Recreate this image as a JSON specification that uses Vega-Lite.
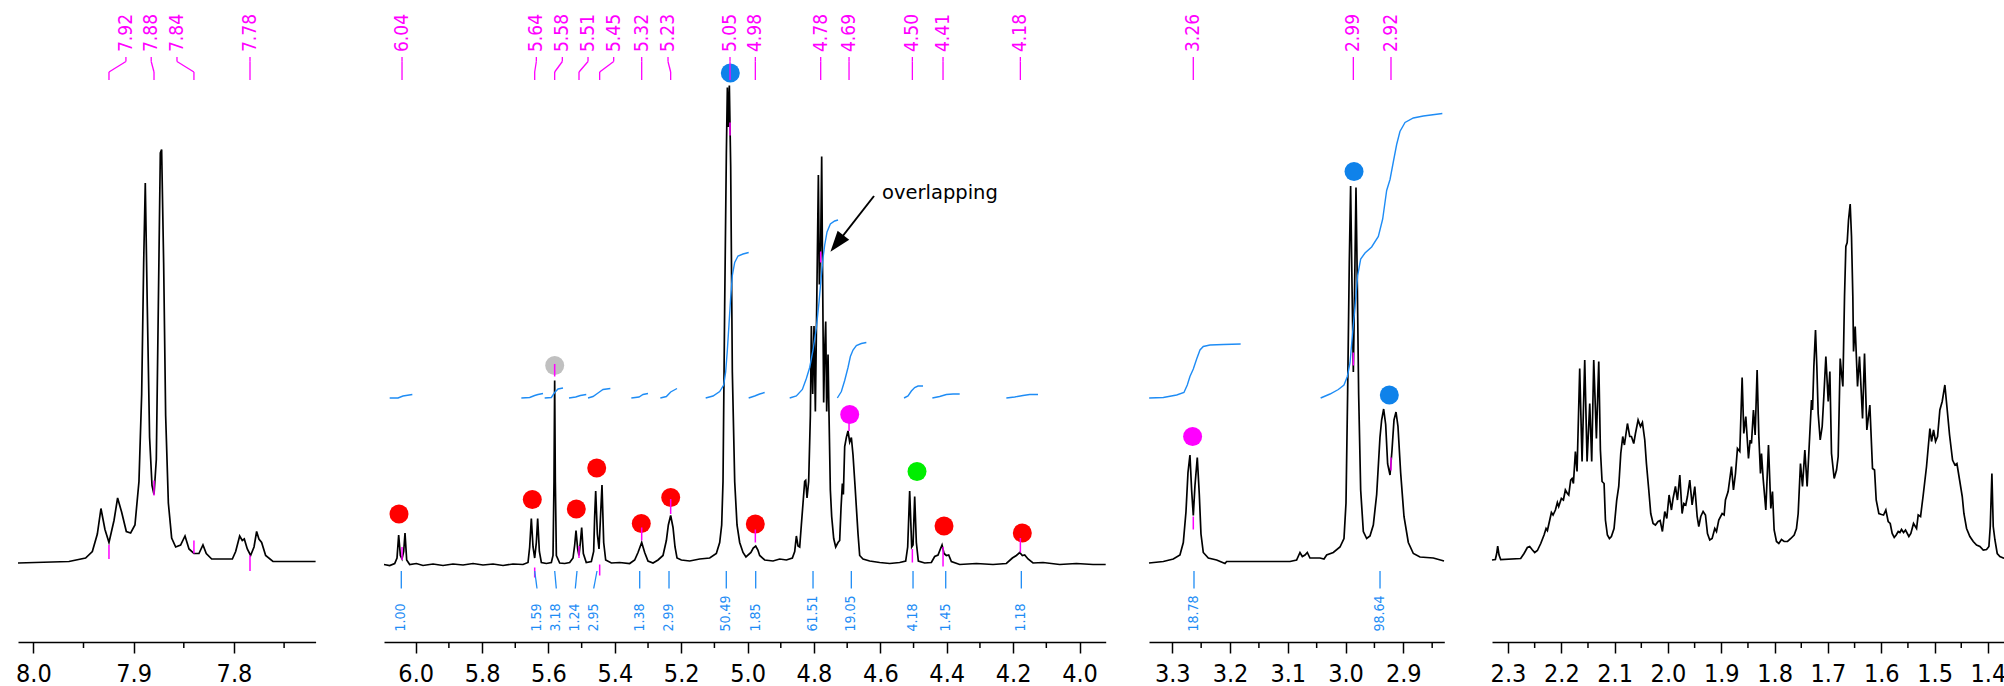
{
  "$schema": "https://vega.github.io/schema/vega-lite/v6.json",
  "background": "#ffffff",
  "padding": {"left": 14, "top": 0, "right": 0, "bottom": 0},
  "config": {
    "view": {"stroke": null},
    "text": {"font": "DejaVu Sans Condensed, DejaVu Sans, sans-serif"}
  },
  "datasets": {
    "s1": [
      {"ppm":8.0153,"int":-0.6},{"ppm":7.9645,"int":-0.3},{"ppm":7.9479,"int":0.4},{"ppm":7.9412,"int":1.7},{"ppm":7.9362,"int":5.2},{"ppm":7.9326,"int":10.3},{"ppm":7.9286,"int":6.1},{"ppm":7.9246,"int":3.5},{"ppm":7.9196,"int":7.9},{"ppm":7.9160,"int":12.4},{"ppm":7.9120,"int":9.6},{"ppm":7.9073,"int":5.7},{"ppm":7.9030,"int":5.4},{"ppm":7.8987,"int":7.0},{"ppm":7.8947,"int":15.7},{"ppm":7.8920,"int":33.2},{"ppm":7.8900,"int":59.5},{"ppm":7.8884,"int":75.4},{"ppm":7.8864,"int":50.7},{"ppm":7.8841,"int":24.5},{"ppm":7.8817,"int":14.9},{"ppm":7.8797,"int":13.1},{"ppm":7.8774,"int":20.1},{"ppm":7.8754,"int":50.7},{"ppm":7.8734,"int":81.4},{"ppm":7.8721,"int":82.1},{"ppm":7.8701,"int":59.5},{"ppm":7.8681,"int":28.9},{"ppm":7.8654,"int":11.4},{"ppm":7.8621,"int":4.4},{"ppm":7.8581,"int":2.6},{"ppm":7.8532,"int":3.0},{"ppm":7.8488,"int":4.8},{"ppm":7.8448,"int":2.2},{"ppm":7.8399,"int":1.3},{"ppm":7.8349,"int":1.3},{"ppm":7.8309,"int":3.0},{"ppm":7.8276,"int":1.3},{"ppm":7.8222,"int":0.2},{"ppm":7.8016,"int":0.2},{"ppm":7.7983,"int":1.7},{"ppm":7.7943,"int":4.8},{"ppm":7.7917,"int":3.9},{"ppm":7.7897,"int":4.2},{"ppm":7.7867,"int":2.2},{"ppm":7.7834,"int":0.9},{"ppm":7.7800,"int":2.6},{"ppm":7.7774,"int":5.7},{"ppm":7.7751,"int":4.2},{"ppm":7.7724,"int":3.5},{"ppm":7.7684,"int":0.9},{"ppm":7.7611,"int":-0.3},{"ppm":7.7186,"int":-0.3}
    ],
    "s2": [
      {"ppm":6.0955,"int":-0.9},{"ppm":6.0784,"int":-1.1},{"ppm":6.0633,"int":-0.7},{"ppm":6.0563,"int":0.4},{"ppm":6.0513,"int":5.0},{"ppm":6.0462,"int":0.9},{"ppm":6.0412,"int":0.2},{"ppm":6.0362,"int":1.7},{"ppm":6.0322,"int":5.4},{"ppm":6.0272,"int":0.0},{"ppm":6.0181,"int":-0.9},{"ppm":5.9980,"int":-0.7},{"ppm":5.9780,"int":-1.1},{"ppm":5.9478,"int":-0.8},{"ppm":5.9177,"int":-1.1},{"ppm":5.8876,"int":-0.8},{"ppm":5.8574,"int":-1.0},{"ppm":5.8273,"int":-0.7},{"ppm":5.7972,"int":-1.0},{"ppm":5.7671,"int":-0.8},{"ppm":5.7369,"int":-1.1},{"ppm":5.7068,"int":-0.8},{"ppm":5.6767,"int":-0.9},{"ppm":5.6616,"int":-0.5},{"ppm":5.6566,"int":2.6},{"ppm":5.6516,"int":8.3},{"ppm":5.6465,"int":2.6},{"ppm":5.6415,"int":0.4},{"ppm":5.6365,"int":3.5},{"ppm":5.6325,"int":8.3},{"ppm":5.6274,"int":1.7},{"ppm":5.6214,"int":-0.5},{"ppm":5.6062,"int":-0.7},{"ppm":5.5913,"int":-0.5},{"ppm":5.5863,"int":0.9},{"ppm":5.5833,"int":15.7},{"ppm":5.5813,"int":35.9},{"ppm":5.5793,"int":15.7},{"ppm":5.5762,"int":0.9},{"ppm":5.5662,"int":-0.6},{"ppm":5.5511,"int":-0.7},{"ppm":5.5361,"int":-0.5},{"ppm":5.5260,"int":0.4},{"ppm":5.5210,"int":3.0},{"ppm":5.5170,"int":5.9},{"ppm":5.5120,"int":2.2},{"ppm":5.5080,"int":0.9},{"ppm":5.5039,"int":3.5},{"ppm":5.4999,"int":6.5},{"ppm":5.4949,"int":1.3},{"ppm":5.4861,"int":-0.5},{"ppm":5.4708,"int":-0.3},{"ppm":5.4638,"int":1.7},{"ppm":5.4608,"int":8.7},{"ppm":5.4577,"int":13.8},{"ppm":5.4527,"int":5.2},{"ppm":5.4477,"int":2.2},{"ppm":5.4437,"int":7.9},{"ppm":5.4387,"int":15.0},{"ppm":5.4336,"int":3.5},{"ppm":5.4276,"int":0.0},{"ppm":5.4105,"int":-0.6},{"ppm":5.3854,"int":-0.5},{"ppm":5.3553,"int":-0.7},{"ppm":5.3402,"int":0.0},{"ppm":5.3302,"int":1.5},{"ppm":5.3191,"int":3.5},{"ppm":5.3101,"int":1.5},{"ppm":5.3001,"int":-0.2},{"ppm":5.2850,"int":-0.6},{"ppm":5.2699,"int":0.0},{"ppm":5.2549,"int":0.9},{"ppm":5.2448,"int":3.9},{"ppm":5.2388,"int":7.0},{"ppm":5.2318,"int":8.9},{"ppm":5.2247,"int":6.5},{"ppm":5.2187,"int":2.6},{"ppm":5.2127,"int":0.4},{"ppm":5.1996,"int":0.0},{"ppm":5.1745,"int":-0.2},{"ppm":5.1444,"int":0.2},{"ppm":5.1142,"int":0.4},{"ppm":5.0942,"int":1.3},{"ppm":5.0841,"int":3.5},{"ppm":5.0781,"int":7.0},{"ppm":5.0741,"int":15.7},{"ppm":5.0691,"int":50.7},{"ppm":5.0640,"int":81.4},{"ppm":5.0610,"int":94.5},{"ppm":5.0580,"int":86.6},{"ppm":5.0550,"int":94.9},{"ppm":5.0510,"int":78.7},{"ppm":5.0460,"int":37.6},{"ppm":5.0389,"int":15.7},{"ppm":5.0319,"int":7.0},{"ppm":5.0239,"int":3.5},{"ppm":5.0138,"int":1.5},{"ppm":5.0050,"int":0.6},{"ppm":4.9900,"int":1.5},{"ppm":4.9830,"int":2.4},{"ppm":4.9756,"int":2.8},{"ppm":4.9690,"int":2.0},{"ppm":4.9636,"int":0.9},{"ppm":4.9485,"int":0.0},{"ppm":4.9234,"int":-0.2},{"ppm":4.9033,"int":0.2},{"ppm":4.8832,"int":0.0},{"ppm":4.8652,"int":0.4},{"ppm":4.8581,"int":1.7},{"ppm":4.8531,"int":4.8},{"ppm":4.8481,"int":2.8},{"ppm":4.8431,"int":2.6},{"ppm":4.8381,"int":7.0},{"ppm":4.8330,"int":11.4},{"ppm":4.8280,"int":15.7},{"ppm":4.8250,"int":15.9},{"ppm":4.8210,"int":12.4},{"ppm":4.8160,"int":15.7},{"ppm":4.8109,"int":28.9},{"ppm":4.8079,"int":46.8},{"ppm":4.8039,"int":33.2},{"ppm":4.7999,"int":46.8},{"ppm":4.7959,"int":29.7},{"ppm":4.7918,"int":50.7},{"ppm":4.7868,"int":77.0},{"ppm":4.7838,"int":55.1},{"ppm":4.7798,"int":63.0},{"ppm":4.7768,"int":80.7},{"ppm":4.7738,"int":55.1},{"ppm":4.7708,"int":31.5},{"ppm":4.7677,"int":42.0},{"ppm":4.7647,"int":47.7},{"ppm":4.7617,"int":29.7},{"ppm":4.7577,"int":41.1},{"ppm":4.7547,"int":28.9},{"ppm":4.7507,"int":14.0},{"ppm":4.7467,"int":8.7},{"ppm":4.7406,"int":4.3},{"ppm":4.7346,"int":2.6},{"ppm":4.7276,"int":3.5},{"ppm":4.7226,"int":3.9},{"ppm":4.7185,"int":10.5},{"ppm":4.7145,"int":15.3},{"ppm":4.7115,"int":13.1},{"ppm":4.7075,"int":22.7},{"ppm":4.7025,"int":24.5},{"ppm":4.6975,"int":25.8},{"ppm":4.6924,"int":23.6},{"ppm":4.6874,"int":24.5},{"ppm":4.6824,"int":21.0},{"ppm":4.6764,"int":14.9},{"ppm":4.6723,"int":10.5},{"ppm":4.6673,"int":5.2},{"ppm":4.6623,"int":0.9},{"ppm":4.6523,"int":0.2},{"ppm":4.6322,"int":-0.2},{"ppm":4.6020,"int":-0.5},{"ppm":4.5719,"int":-0.7},{"ppm":4.5418,"int":-0.5},{"ppm":4.5237,"int":-0.2},{"ppm":4.5177,"int":2.6},{"ppm":4.5117,"int":13.8},{"ppm":4.5056,"int":2.6},{"ppm":4.5016,"int":3.0},{"ppm":4.4966,"int":12.7},{"ppm":4.4916,"int":3.5},{"ppm":4.4856,"int":-0.2},{"ppm":4.4665,"int":-0.6},{"ppm":4.4464,"int":-0.5},{"ppm":4.4363,"int":0.7},{"ppm":4.4263,"int":1.0},{"ppm":4.4192,"int":2.2},{"ppm":4.4142,"int":3.0},{"ppm":4.4082,"int":1.3},{"ppm":4.4012,"int":0.9},{"ppm":4.3942,"int":1.0},{"ppm":4.3861,"int":-0.3},{"ppm":4.3610,"int":-0.9},{"ppm":4.3108,"int":-0.7},{"ppm":4.2606,"int":-0.9},{"ppm":4.2204,"int":-0.7},{"ppm":4.2023,"int":0.4},{"ppm":4.1903,"int":0.9},{"ppm":4.1802,"int":1.5},{"ppm":4.1722,"int":0.9},{"ppm":4.1652,"int":1.0},{"ppm":4.1551,"int":0.2},{"ppm":4.1401,"int":-0.6},{"ppm":4.1099,"int":-0.5},{"ppm":4.0597,"int":-0.9},{"ppm":4.0095,"int":-0.7},{"ppm":3.9593,"int":-0.9},{"ppm":3.9211,"int":-0.9}
    ],
    "s3": [
      {"ppm":3.3403,"int":-0.6},{"ppm":3.3155,"int":-0.3},{"ppm":3.2982,"int":0.2},{"ppm":3.2867,"int":1.0},{"ppm":3.2809,"int":3.5},{"ppm":3.2763,"int":9.6},{"ppm":3.2728,"int":17.5},{"ppm":3.2694,"int":21.0},{"ppm":3.2665,"int":14.0},{"ppm":3.2636,"int":8.9},{"ppm":3.2607,"int":14.9},{"ppm":3.2567,"int":20.5},{"ppm":3.2532,"int":13.1},{"ppm":3.2503,"int":5.2},{"ppm":3.2463,"int":1.5},{"ppm":3.2376,"int":0.4},{"ppm":3.2232,"int":0.0},{"ppm":3.2088,"int":-0.7},{"ppm":3.2059,"int":-0.3},{"ppm":3.1539,"int":-0.3},{"ppm":3.0962,"int":-0.3},{"ppm":3.0847,"int":0.0},{"ppm":3.0789,"int":1.5},{"ppm":3.0748,"int":0.7},{"ppm":3.0702,"int":1.0},{"ppm":3.0662,"int":1.5},{"ppm":3.0616,"int":0.4},{"ppm":3.0443,"int":0.4},{"ppm":3.0373,"int":0.2},{"ppm":3.0327,"int":1.0},{"ppm":3.0212,"int":1.5},{"ppm":3.0096,"int":2.6},{"ppm":3.0027,"int":4.3},{"ppm":2.9992,"int":11.4},{"ppm":2.9964,"int":33.2},{"ppm":2.9935,"int":59.5},{"ppm":2.9912,"int":74.8},{"ppm":2.9888,"int":55.1},{"ppm":2.9865,"int":37.6},{"ppm":2.9842,"int":55.1},{"ppm":2.9819,"int":74.5},{"ppm":2.9796,"int":55.1},{"ppm":2.9773,"int":33.2},{"ppm":2.9738,"int":14.0},{"ppm":2.9692,"int":5.7},{"ppm":2.9634,"int":4.3},{"ppm":2.9577,"int":4.8},{"ppm":2.9519,"int":7.0},{"ppm":2.9461,"int":13.1},{"ppm":2.9404,"int":24.5},{"ppm":2.9375,"int":28.0},{"ppm":2.9340,"int":30.2},{"ppm":2.9305,"int":27.1},{"ppm":2.9271,"int":19.2},{"ppm":2.9230,"int":17.0},{"ppm":2.9196,"int":21.9},{"ppm":2.9161,"int":28.0},{"ppm":2.9126,"int":29.6},{"ppm":2.9092,"int":26.7},{"ppm":2.9046,"int":17.5},{"ppm":2.8988,"int":8.7},{"ppm":2.8913,"int":3.5},{"ppm":2.8826,"int":1.3},{"ppm":2.8711,"int":0.6},{"ppm":2.8480,"int":0.4},{"ppm":2.8295,"int":-0.2}
    ],
    "s4": [
      {"ppm":2.3300,"int":0.0},{"ppm":2.3237,"int":0.1},{"ppm":2.3212,"int":1.3},{"ppm":2.3193,"int":2.8},{"ppm":2.3168,"int":1.0},{"ppm":2.3137,"int":0.1},{"ppm":2.2762,"int":0.3},{"ppm":2.2699,"int":1.3},{"ppm":2.2637,"int":2.5},{"ppm":2.2593,"int":2.7},{"ppm":2.2549,"int":2.1},{"ppm":2.2499,"int":1.5},{"ppm":2.2449,"int":1.9},{"ppm":2.2386,"int":3.3},{"ppm":2.2324,"int":5.0},{"ppm":2.2286,"int":6.3},{"ppm":2.2261,"int":5.9},{"ppm":2.2217,"int":8.0},{"ppm":2.2186,"int":9.5},{"ppm":2.2155,"int":9.0},{"ppm":2.2111,"int":10.0},{"ppm":2.2074,"int":11.5},{"ppm":2.2049,"int":10.7},{"ppm":2.1999,"int":12.3},{"ppm":2.1961,"int":12.0},{"ppm":2.1924,"int":14.0},{"ppm":2.1886,"int":13.3},{"ppm":2.1861,"int":13.0},{"ppm":2.1824,"int":16.0},{"ppm":2.1799,"int":16.3},{"ppm":2.1773,"int":15.3},{"ppm":2.1736,"int":21.7},{"ppm":2.1705,"int":17.7},{"ppm":2.1655,"int":38.3},{"ppm":2.1611,"int":19.7},{"ppm":2.1561,"int":40.0},{"ppm":2.1517,"int":19.7},{"ppm":2.1467,"int":31.3},{"ppm":2.1430,"int":19.7},{"ppm":2.1392,"int":40.0},{"ppm":2.1342,"int":24.3},{"ppm":2.1298,"int":39.7},{"ppm":2.1267,"int":22.0},{"ppm":2.1236,"int":15.7},{"ppm":2.1198,"int":15.3},{"ppm":2.1173,"int":8.0},{"ppm":2.1136,"int":5.0},{"ppm":2.1098,"int":4.3},{"ppm":2.1061,"int":4.7},{"ppm":2.1011,"int":6.3},{"ppm":2.0961,"int":12.0},{"ppm":2.0923,"int":14.7},{"ppm":2.0885,"int":21.3},{"ppm":2.0848,"int":24.7},{"ppm":2.0817,"int":23.0},{"ppm":2.0760,"int":27.3},{"ppm":2.0717,"int":24.7},{"ppm":2.0685,"int":24.7},{"ppm":2.0642,"int":23.3},{"ppm":2.0610,"int":25.3},{"ppm":2.0560,"int":28.0},{"ppm":2.0516,"int":26.7},{"ppm":2.0479,"int":27.5},{"ppm":2.0435,"int":24.0},{"ppm":2.0404,"int":19.3},{"ppm":2.0360,"int":14.0},{"ppm":2.0323,"int":9.3},{"ppm":2.0279,"int":7.3},{"ppm":2.0235,"int":7.0},{"ppm":2.0185,"int":7.7},{"ppm":2.0147,"int":7.9},{"ppm":2.0104,"int":5.7},{"ppm":2.0060,"int":9.7},{"ppm":2.0022,"int":8.3},{"ppm":1.9979,"int":13.0},{"ppm":1.9935,"int":10.0},{"ppm":1.9904,"int":12.3},{"ppm":1.9860,"int":14.7},{"ppm":1.9822,"int":12.0},{"ppm":1.9778,"int":17.0},{"ppm":1.9735,"int":9.3},{"ppm":1.9703,"int":11.3},{"ppm":1.9666,"int":11.0},{"ppm":1.9635,"int":12.7},{"ppm":1.9591,"int":16.0},{"ppm":1.9547,"int":11.0},{"ppm":1.9497,"int":14.7},{"ppm":1.9453,"int":8.7},{"ppm":1.9422,"int":6.7},{"ppm":1.9385,"int":8.7},{"ppm":1.9341,"int":9.7},{"ppm":1.9297,"int":9.0},{"ppm":1.9259,"int":5.3},{"ppm":1.9216,"int":4.0},{"ppm":1.9172,"int":4.3},{"ppm":1.9122,"int":6.3},{"ppm":1.9090,"int":5.7},{"ppm":1.9047,"int":8.0},{"ppm":1.8984,"int":9.3},{"ppm":1.8947,"int":9.0},{"ppm":1.8922,"int":12.0},{"ppm":1.8872,"int":13.7},{"ppm":1.8809,"int":18.7},{"ppm":1.8772,"int":14.0},{"ppm":1.8734,"int":17.3},{"ppm":1.8697,"int":22.3},{"ppm":1.8653,"int":21.7},{"ppm":1.8609,"int":36.5},{"ppm":1.8578,"int":25.3},{"ppm":1.8540,"int":28.7},{"ppm":1.8490,"int":20.3},{"ppm":1.8459,"int":24.0},{"ppm":1.8434,"int":23.3},{"ppm":1.8397,"int":30.0},{"ppm":1.8365,"int":25.0},{"ppm":1.8328,"int":38.0},{"ppm":1.8296,"int":24.7},{"ppm":1.8265,"int":17.3},{"ppm":1.8246,"int":21.3},{"ppm":1.8215,"int":16.3},{"ppm":1.8165,"int":10.0},{"ppm":1.8115,"int":23.0},{"ppm":1.8071,"int":10.3},{"ppm":1.8040,"int":13.7},{"ppm":1.8009,"int":6.0},{"ppm":1.7965,"int":3.7},{"ppm":1.7921,"int":3.3},{"ppm":1.7871,"int":4.1},{"ppm":1.7821,"int":3.7},{"ppm":1.7758,"int":3.7},{"ppm":1.7696,"int":4.3},{"ppm":1.7633,"int":5.0},{"ppm":1.7590,"int":6.3},{"ppm":1.7558,"int":9.3},{"ppm":1.7515,"int":19.3},{"ppm":1.7477,"int":14.7},{"ppm":1.7433,"int":22.0},{"ppm":1.7390,"int":14.7},{"ppm":1.7346,"int":24.0},{"ppm":1.7308,"int":32.0},{"ppm":1.7289,"int":30.0},{"ppm":1.7264,"int":38.7},{"ppm":1.7233,"int":46.0},{"ppm":1.7208,"int":38.7},{"ppm":1.7183,"int":29.3},{"ppm":1.7145,"int":24.0},{"ppm":1.7108,"int":26.7},{"ppm":1.7077,"int":32.7},{"ppm":1.7039,"int":40.7},{"ppm":1.6995,"int":31.7},{"ppm":1.6964,"int":37.7},{"ppm":1.6933,"int":21.3},{"ppm":1.6883,"int":16.3},{"ppm":1.6839,"int":18.0},{"ppm":1.6808,"int":20.7},{"ppm":1.6770,"int":40.3},{"ppm":1.6745,"int":37.3},{"ppm":1.6720,"int":34.7},{"ppm":1.6689,"int":52.7},{"ppm":1.6664,"int":62.7},{"ppm":1.6639,"int":63.5},{"ppm":1.6614,"int":68.0},{"ppm":1.6583,"int":71.2},{"ppm":1.6558,"int":64.7},{"ppm":1.6533,"int":52.7},{"ppm":1.6520,"int":41.7},{"ppm":1.6489,"int":46.7},{"ppm":1.6445,"int":34.7},{"ppm":1.6408,"int":40.7},{"ppm":1.6351,"int":28.3},{"ppm":1.6314,"int":41.3},{"ppm":1.6270,"int":26.0},{"ppm":1.6214,"int":31.0},{"ppm":1.6164,"int":18.3},{"ppm":1.6126,"int":18.0},{"ppm":1.6095,"int":12.0},{"ppm":1.6045,"int":9.3},{"ppm":1.5995,"int":9.1},{"ppm":1.5957,"int":9.0},{"ppm":1.5914,"int":10.0},{"ppm":1.5870,"int":7.7},{"ppm":1.5832,"int":7.3},{"ppm":1.5795,"int":5.3},{"ppm":1.5757,"int":4.5},{"ppm":1.5720,"int":5.0},{"ppm":1.5682,"int":5.7},{"ppm":1.5651,"int":5.5},{"ppm":1.5620,"int":6.1},{"ppm":1.5582,"int":5.5},{"ppm":1.5545,"int":6.0},{"ppm":1.5482,"int":4.7},{"ppm":1.5445,"int":5.3},{"ppm":1.5395,"int":7.3},{"ppm":1.5338,"int":6.3},{"ppm":1.5307,"int":9.0},{"ppm":1.5263,"int":8.7},{"ppm":1.5213,"int":13.0},{"ppm":1.5151,"int":18.7},{"ppm":1.5088,"int":26.3},{"ppm":1.5057,"int":23.7},{"ppm":1.5019,"int":26.0},{"ppm":1.4982,"int":23.7},{"ppm":1.4944,"int":24.7},{"ppm":1.4901,"int":30.0},{"ppm":1.4857,"int":31.7},{"ppm":1.4807,"int":35.0},{"ppm":1.4769,"int":30.7},{"ppm":1.4719,"int":25.0},{"ppm":1.4663,"int":20.0},{"ppm":1.4619,"int":19.0},{"ppm":1.4581,"int":19.3},{"ppm":1.4531,"int":16.0},{"ppm":1.4481,"int":12.7},{"ppm":1.4450,"int":9.3},{"ppm":1.4400,"int":6.3},{"ppm":1.4338,"int":4.7},{"ppm":1.4275,"int":3.7},{"ppm":1.4213,"int":3.0},{"ppm":1.4150,"int":2.7},{"ppm":1.4087,"int":2.0},{"ppm":1.4025,"int":2.1},{"ppm":1.3981,"int":2.7},{"ppm":1.3956,"int":6.7},{"ppm":1.3925,"int":17.3},{"ppm":1.3900,"int":6.7},{"ppm":1.3868,"int":4.0},{"ppm":1.3825,"int":1.3},{"ppm":1.3775,"int":0.7},{"ppm":1.3712,"int":0.4},{"ppm":1.3610,"int":0.2}
    ],
    "minor": [
      {"panel":1,"ppm":7.95},{"panel":1,"ppm":7.85},{"panel":1,"ppm":7.75},
      {"panel":2,"ppm":5.9},{"panel":2,"ppm":5.7},{"panel":2,"ppm":5.5},{"panel":2,"ppm":5.3},{"panel":2,"ppm":5.1},{"panel":2,"ppm":4.9},{"panel":2,"ppm":4.7},{"panel":2,"ppm":4.5},{"panel":2,"ppm":4.3},{"panel":2,"ppm":4.1},
      {"panel":3,"ppm":3.25},{"panel":3,"ppm":3.15},{"panel":3,"ppm":3.05},{"panel":3,"ppm":2.95},{"panel":3,"ppm":2.85},
      {"panel":4,"ppm":2.25},{"panel":4,"ppm":2.15},{"panel":4,"ppm":2.05},{"panel":4,"ppm":1.95},{"panel":4,"ppm":1.85},{"panel":4,"ppm":1.75},{"panel":4,"ppm":1.65},{"panel":4,"ppm":1.55},{"panel":4,"ppm":1.45}
    ],
    "peaks": [
      {"panel":1,"shift":7.9246,"lab":7.9077,"m1":3.0,"m2":0.2},
      {"panel":1,"shift":7.8797,"lab":7.8825,"m1":15.9,"m2":12.9},
      {"panel":1,"shift":7.8399,"lab":7.8568,"m1":3.9,"m2":1.3},
      {"panel":1,"shift":7.7840,"lab":7.7840,"m1":0.9,"m2":-2.2},
      {"panel":2,"shift":6.0412,"lab":6.0412,"m1":2.6,"m2":0.0},
      {"panel":2,"shift":5.6415,"lab":5.6365,"m1":-1.5,"m2":-3.5},
      {"panel":2,"shift":5.5813,"lab":5.5582,"m1":39.2,"m2":36.7},
      {"panel":2,"shift":5.5080,"lab":5.4808,"m1":2.8,"m2":0.4},
      {"panel":2,"shift":5.4457,"lab":5.4035,"m1":-0.9,"m2":-3.1},
      {"panel":2,"shift":5.3191,"lab":5.3191,"m1":6.5,"m2":3.9},
      {"panel":2,"shift":5.2318,"lab":5.2398,"m1":12.2,"m2":9.2},
      {"panel":2,"shift":5.0530,"lab":5.0530,"m1":87.5,"m2":84.9},
      {"panel":2,"shift":4.9767,"lab":4.9767,"m1":6.1,"m2":3.5},
      {"panel":2,"shift":4.7798,"lab":4.7798,"m1":61.7,"m2":59.5},
      {"panel":2,"shift":4.6944,"lab":4.6944,"m1":27.5,"m2":25.8},
      {"panel":2,"shift":4.5036,"lab":4.5036,"m1":2.2,"m2":-0.5},
      {"panel":2,"shift":4.4112,"lab":4.4112,"m1":2.6,"m2":-1.3},
      {"panel":2,"shift":4.1782,"lab":4.1782,"m1":4.4,"m2":1.5},
      {"panel":3,"shift":3.2636,"lab":3.2636,"m1":8.7,"m2":6.1},
      {"panel":3,"shift":2.9865,"lab":2.9865,"m1":41.5,"m2":38.9},
      {"panel":3,"shift":2.9213,"lab":2.9213,"m1":20.5,"m2":17.9}
    ],
    "integrals": [
      {"panel":2,"value":1.00,"ilab":6.0434,"itop":6.0434},
      {"panel":2,"value":1.59,"ilab":5.6345,"itop":5.6414},
      {"panel":2,"value":3.18,"ilab":5.5764,"itop":5.5812},
      {"panel":2,"value":1.24,"ilab":5.5191,"itop":5.5140},
      {"panel":2,"value":2.95,"ilab":5.4637,"itop":5.4537},
      {"panel":2,"value":1.38,"ilab":5.3251,"itop":5.3251},
      {"panel":2,"value":2.99,"ilab":5.2368,"itop":5.2368},
      {"panel":2,"value":50.49,"ilab":5.0642,"itop":5.0642},
      {"panel":2,"value":1.85,"ilab":4.9756,"itop":4.9756},
      {"panel":2,"value":61.51,"ilab":4.8029,"itop":4.8029},
      {"panel":2,"value":19.05,"ilab":4.6875,"itop":4.6875},
      {"panel":2,"value":4.18,"ilab":4.5016,"itop":4.5016},
      {"panel":2,"value":1.45,"ilab":4.4031,"itop":4.4031},
      {"panel":2,"value":1.18,"ilab":4.1753,"itop":4.1753},
      {"panel":3,"value":18.78,"ilab":3.2624,"itop":3.2624},
      {"panel":3,"value":98.64,"ilab":2.9403,"itop":2.9403}
    ],
    "curves": [
      {"panel":2,"region":"r1","ppm":6.0784,"int":32.4},{"panel":2,"region":"r1","ppm":6.0533,"int":32.4},{"panel":2,"region":"r1","ppm":6.0383,"int":32.8},{"panel":2,"region":"r1","ppm":6.0101,"int":33.1},
      {"panel":2,"region":"r2","ppm":5.6817,"int":32.4},{"panel":2,"region":"r2","ppm":5.6566,"int":32.5},{"panel":2,"region":"r2","ppm":5.6415,"int":32.9},{"panel":2,"region":"r2","ppm":5.6315,"int":33.1},{"panel":2,"region":"r2","ppm":5.6164,"int":33.3},
      {"panel":2,"region":"r3","ppm":5.6114,"int":32.4},{"panel":2,"region":"r3","ppm":5.5913,"int":32.5},{"panel":2,"region":"r3","ppm":5.5813,"int":33.5},{"panel":2,"region":"r3","ppm":5.5712,"int":34.2},{"panel":2,"region":"r3","ppm":5.5562,"int":34.4},
      {"panel":2,"region":"r4","ppm":5.5381,"int":32.4},{"panel":2,"region":"r4","ppm":5.5180,"int":32.6},{"panel":2,"region":"r4","ppm":5.5039,"int":32.9},{"panel":2,"region":"r4","ppm":5.4861,"int":33.1},
      {"panel":2,"region":"r5","ppm":5.4808,"int":32.4},{"panel":2,"region":"r5","ppm":5.4658,"int":32.7},{"panel":2,"region":"r5","ppm":5.4507,"int":33.4},{"panel":2,"region":"r5","ppm":5.4356,"int":34.1},{"panel":2,"region":"r5","ppm":5.4135,"int":34.3},
      {"panel":2,"region":"r6","ppm":5.3503,"int":32.4},{"panel":2,"region":"r6","ppm":5.3272,"int":32.6},{"panel":2,"region":"r6","ppm":5.3151,"int":33.1},{"panel":2,"region":"r6","ppm":5.3001,"int":33.3},
      {"panel":2,"region":"r7","ppm":5.2629,"int":32.4},{"panel":2,"region":"r7","ppm":5.2448,"int":32.7},{"panel":2,"region":"r7","ppm":5.2318,"int":33.6},{"panel":2,"region":"r7","ppm":5.2127,"int":34.3},
      {"panel":2,"region":"r8","ppm":5.1263,"int":32.4},{"panel":2,"region":"r8","ppm":5.1042,"int":32.8},{"panel":2,"region":"r8","ppm":5.0841,"int":33.7},{"panel":2,"region":"r8","ppm":5.0721,"int":35.0},{"panel":2,"region":"r8","ppm":5.0661,"int":37.6},{"panel":2,"region":"r8","ppm":5.0610,"int":42.0},{"panel":2,"region":"r8","ppm":5.0560,"int":47.2},{"panel":2,"region":"r8","ppm":5.0510,"int":52.5},{"panel":2,"region":"r8","ppm":5.0460,"int":56.9},{"panel":2,"region":"r8","ppm":5.0389,"int":59.5},{"panel":2,"region":"r8","ppm":5.0289,"int":60.8},{"panel":2,"region":"r8","ppm":5.0138,"int":61.2},{"panel":2,"region":"r8","ppm":4.9968,"int":61.5},
      {"panel":2,"region":"r9","ppm":4.9968,"int":32.4},{"panel":2,"region":"r9","ppm":4.9787,"int":32.8},{"panel":2,"region":"r9","ppm":4.9636,"int":33.2},{"panel":2,"region":"r9","ppm":4.9486,"int":33.5},
      {"panel":2,"region":"r10","ppm":4.8732,"int":32.4},{"panel":2,"region":"r10","ppm":4.8531,"int":32.8},{"panel":2,"region":"r10","ppm":4.8350,"int":34.1},{"panel":2,"region":"r10","ppm":4.8230,"int":36.3},{"panel":2,"region":"r10","ppm":4.8129,"int":38.5},{"panel":2,"region":"r10","ppm":4.8029,"int":42.0},{"panel":2,"region":"r10","ppm":4.7929,"int":46.4},{"panel":2,"region":"r10","ppm":4.7848,"int":51.6},{"panel":2,"region":"r10","ppm":4.7778,"int":56.9},{"panel":2,"region":"r10","ppm":4.7728,"int":60.4},{"panel":2,"region":"r10","ppm":4.7677,"int":63.0},{"panel":2,"region":"r10","ppm":4.7607,"int":65.6},{"panel":2,"region":"r10","ppm":4.7507,"int":67.2},{"panel":2,"region":"r10","ppm":4.7376,"int":67.8},{"panel":2,"region":"r10","ppm":4.7276,"int":68.0},
      {"panel":2,"region":"r11","ppm":4.7296,"int":32.4},{"panel":2,"region":"r11","ppm":4.7175,"int":33.7},{"panel":2,"region":"r11","ppm":4.7075,"int":35.9},{"panel":2,"region":"r11","ppm":4.6975,"int":38.5},{"panel":2,"region":"r11","ppm":4.6904,"int":40.7},{"panel":2,"region":"r11","ppm":4.6824,"int":42.0},{"panel":2,"region":"r11","ppm":4.6723,"int":42.9},{"panel":2,"region":"r11","ppm":4.6573,"int":43.3},{"panel":2,"region":"r11","ppm":4.6422,"int":43.5},
      {"panel":2,"region":"r12","ppm":4.5287,"int":32.4},{"panel":2,"region":"r12","ppm":4.5167,"int":32.8},{"panel":2,"region":"r12","ppm":4.5066,"int":33.8},{"panel":2,"region":"r12","ppm":4.4966,"int":34.5},{"panel":2,"region":"r12","ppm":4.4865,"int":34.8},{"panel":2,"region":"r12","ppm":4.4715,"int":34.8},
      {"panel":2,"region":"r13","ppm":4.4434,"int":32.4},{"panel":2,"region":"r13","ppm":4.4213,"int":32.7},{"panel":2,"region":"r13","ppm":4.4012,"int":33.1},{"panel":2,"region":"r13","ppm":4.3811,"int":33.2},{"panel":2,"region":"r13","ppm":4.3610,"int":33.2},
      {"panel":2,"region":"r14","ppm":4.2204,"int":32.4},{"panel":2,"region":"r14","ppm":4.1953,"int":32.6},{"panel":2,"region":"r14","ppm":4.1702,"int":32.9},{"panel":2,"region":"r14","ppm":4.1501,"int":33.1},{"panel":2,"region":"r14","ppm":4.1250,"int":33.1},
      {"panel":3,"region":"r15","ppm":3.3400,"int":32.4},{"panel":3,"region":"r15","ppm":3.3155,"int":32.5},{"panel":3,"region":"r15","ppm":3.2924,"int":33.0},{"panel":3,"region":"r15","ppm":3.2798,"int":33.5},{"panel":3,"region":"r15","ppm":3.2740,"int":35.0},{"panel":3,"region":"r15","ppm":3.2694,"int":36.7},{"panel":3,"region":"r15","ppm":3.2636,"int":38.2},{"panel":3,"region":"r15","ppm":3.2578,"int":40.2},{"panel":3,"region":"r15","ppm":3.2520,"int":42.0},{"panel":3,"region":"r15","ppm":3.2463,"int":42.7},{"panel":3,"region":"r15","ppm":3.2347,"int":43.0},{"panel":3,"region":"r15","ppm":3.2116,"int":43.1},{"panel":3,"region":"r15","ppm":3.1816,"int":43.2},
      {"panel":3,"region":"r16","ppm":3.0431,"int":32.4},{"panel":3,"region":"r16","ppm":3.0269,"int":33.2},{"panel":3,"region":"r16","ppm":3.0125,"int":34.1},{"panel":3,"region":"r16","ppm":3.0027,"int":35.0},{"panel":3,"region":"r16","ppm":2.9969,"int":36.7},{"panel":3,"region":"r16","ppm":2.9923,"int":39.4},{"panel":3,"region":"r16","ppm":2.9877,"int":45.5},{"panel":3,"region":"r16","ppm":2.9836,"int":50.7},{"panel":3,"region":"r16","ppm":2.9790,"int":56.9},{"panel":3,"region":"r16","ppm":2.9738,"int":60.2},{"panel":3,"region":"r16","ppm":2.9663,"int":61.4},{"panel":3,"region":"r16","ppm":2.9548,"int":62.6},{"panel":3,"region":"r16","ppm":2.9432,"int":64.7},{"panel":3,"region":"r16","ppm":2.9357,"int":68.2},{"panel":3,"region":"r16","ppm":2.9288,"int":73.9},{"panel":3,"region":"r16","ppm":2.9230,"int":76.1},{"panel":3,"region":"r16","ppm":2.9173,"int":79.6},{"panel":3,"region":"r16","ppm":2.9115,"int":83.1},{"panel":3,"region":"r16","ppm":2.9058,"int":85.7},{"panel":3,"region":"r16","ppm":2.8970,"int":87.5},{"panel":3,"region":"r16","ppm":2.8826,"int":88.4},{"panel":3,"region":"r16","ppm":2.8653,"int":88.8},{"panel":3,"region":"r16","ppm":2.8324,"int":89.3}
    ],
    "dots": [
      {"panel":2,"ppm":6.0503,"int":9.2,"group":"A"},
      {"panel":2,"ppm":5.6487,"int":12.1,"group":"A"},
      {"panel":2,"ppm":5.5812,"int":38.9,"group":"B"},
      {"panel":2,"ppm":5.5161,"int":10.2,"group":"A"},
      {"panel":2,"ppm":5.4546,"int":18.4,"group":"A"},
      {"panel":2,"ppm":5.3203,"int":7.3,"group":"A"},
      {"panel":2,"ppm":5.2317,"int":12.5,"group":"A"},
      {"panel":2,"ppm":5.0521,"int":97.4,"group":"C"},
      {"panel":2,"ppm":4.9768,"int":7.2,"group":"A"},
      {"panel":2,"ppm":4.6924,"int":29.1,"group":"D"},
      {"panel":2,"ppm":4.4896,"int":17.7,"group":"E"},
      {"panel":2,"ppm":4.4082,"int":6.8,"group":"A"},
      {"panel":2,"ppm":4.1723,"int":5.4,"group":"A"},
      {"panel":3,"ppm":3.2648,"int":24.7,"group":"D"},
      {"panel":3,"ppm":2.9853,"int":77.7,"group":"C"},
      {"panel":3,"ppm":2.9242,"int":33.0,"group":"C"}
    ],
    "arrow": [{"fromPpm":4.6192,"fromInt":72.8,"toPpm":4.7309,"toInt":63.3}],
    "notes": [{"ppm":4.5950,"int":73.4,"label":"overlapping"}]
  },
  "bounds": "flush",
  "spacing": 0,
  "hconcat": [
    {
      "width": 297.6,
      "height": 642,
      "layer": [
        {"data": {"name": "s1"}, "mark": {"type": "line", "color": "#000000", "strokeWidth": 1.7},
         "encoding": {"x": {"field": "ppm", "type": "quantitative", "scale": {"domain": [7.7186, 8.0153], "reverse": true, "nice": false, "zero": false},
                            "axis": {"orient": "bottom", "values": [8.0, 7.9, 7.8], "format": ".1f", "title": null, "grid": false, "domain": true, "domainColor": "#000000", "domainWidth": 1.5, "ticks": true, "tickColor": "#000000", "tickWidth": 1.5, "tickSize": 11, "labels": true, "labelFont": "DejaVu Sans Condensed", "labelFontSize": 25, "labelColor": "#000000", "labelPadding": 8.5, "labelFlush": false, "labelOverlap": false}},
                      "y": {"field": "int", "type": "quantitative", "scale": {"domain": [-16.4, 112], "nice": false, "zero": false}, "axis": null}}},
        {"data": {"name": "minor"}, "transform": [{"filter": "datum.panel == 1"}], "mark": {"type": "rule", "color": "#000000", "strokeWidth": 1.5},
         "encoding": {"x": {"field": "ppm", "type": "quantitative", "scale": {"domain": [7.7186, 8.0153], "reverse": true, "nice": false, "zero": false}, "axis": {"title": null}},
                      "y": {"datum": -16.4, "type": "quantitative", "scale": {"domain": [-16.4, 112], "nice": false, "zero": false}, "axis": null}, "y2": {"datum": -17.6}}},
        {"data": {"name": "peaks"}, "transform": [{"filter": "datum.panel == 1"}], "mark": {"type": "rule", "color": "#ff00ff", "strokeWidth": 1.5},
         "encoding": {"x": {"field": "shift", "type": "quantitative", "scale": {"domain": [7.7186, 8.0153], "reverse": true, "nice": false, "zero": false}, "axis": {"title": null}},
                      "y": {"field": "m1", "type": "quantitative", "scale": {"domain": [-16.4, 112], "nice": false, "zero": false}, "axis": null}, "y2": {"field": "m2"}}},
        {"data": {"name": "peaks"}, "transform": [{"filter": "datum.panel == 1"}], "mark": {"type": "rule", "color": "#ff00ff", "strokeWidth": 1.3},
         "encoding": {"x": {"field": "lab", "type": "quantitative", "scale": {"domain": [7.7186, 8.0153], "reverse": true, "nice": false, "zero": false}, "axis": {"title": null}},
                      "y": {"datum": 100.6, "type": "quantitative", "scale": {"domain": [-16.4, 112], "nice": false, "zero": false}, "axis": null}, "y2": {"datum": 99.7}}},
        {"data": {"name": "peaks"}, "transform": [{"filter": "datum.panel == 1"}], "mark": {"type": "rule", "color": "#ff00ff", "strokeWidth": 1.3},
         "encoding": {"x": {"field": "lab", "type": "quantitative", "scale": {"domain": [7.7186, 8.0153], "reverse": true, "nice": false, "zero": false}, "axis": {"title": null}}, "x2": {"field": "shift"},
                      "y": {"datum": 99.7, "type": "quantitative", "scale": {"domain": [-16.4, 112], "nice": false, "zero": false}, "axis": null}, "y2": {"datum": 97.6}}},
        {"data": {"name": "peaks"}, "transform": [{"filter": "datum.panel == 1"}], "mark": {"type": "rule", "color": "#ff00ff", "strokeWidth": 1.3},
         "encoding": {"x": {"field": "shift", "type": "quantitative", "scale": {"domain": [7.7186, 8.0153], "reverse": true, "nice": false, "zero": false}, "axis": {"title": null}},
                      "y": {"datum": 97.6, "type": "quantitative", "scale": {"domain": [-16.4, 112], "nice": false, "zero": false}, "axis": null}, "y2": {"datum": 96.0}}},
        {"data": {"name": "peaks"}, "transform": [{"filter": "datum.panel == 1"}], "mark": {"type": "text", "color": "#ff00ff", "fontSize": 19, "angle": 270, "align": "left", "baseline": "middle"},
         "encoding": {"x": {"field": "lab", "type": "quantitative", "scale": {"domain": [7.7186, 8.0153], "reverse": true, "nice": false, "zero": false}, "axis": {"title": null}},
                      "y": {"datum": 101.6, "type": "quantitative", "scale": {"domain": [-16.4, 112], "nice": false, "zero": false}, "axis": null},
                      "text": {"field": "shift", "type": "quantitative", "format": ".2f"}}}
      ]
    },
    {"width": 67.7, "height": 642, "data": {"values": []}, "mark": "point"},
    {
      "width": 721.7,
      "height": 642,
      "layer": [
        {"data": {"name": "s2"}, "mark": {"type": "line", "color": "#000000", "strokeWidth": 1.7},
         "encoding": {"x": {"field": "ppm", "type": "quantitative", "scale": {"domain": [3.9211, 6.0955], "reverse": true, "nice": false, "zero": false},
                            "axis": {"orient": "bottom", "values": [6.0, 5.8, 5.6, 5.4, 5.2, 5.0, 4.8, 4.6, 4.4, 4.2, 4.0], "format": ".1f", "title": null, "grid": false, "domain": true, "domainColor": "#000000", "domainWidth": 1.5, "ticks": true, "tickColor": "#000000", "tickWidth": 1.5, "tickSize": 11, "labels": true, "labelFont": "DejaVu Sans Condensed", "labelFontSize": 25, "labelColor": "#000000", "labelPadding": 8.5, "labelFlush": false, "labelOverlap": false}},
                      "y": {"field": "int", "type": "quantitative", "scale": {"domain": [-16.4, 112], "nice": false, "zero": false}, "axis": null}}},
        {"data": {"name": "minor"}, "transform": [{"filter": "datum.panel == 2"}], "mark": {"type": "rule", "color": "#000000", "strokeWidth": 1.5},
         "encoding": {"x": {"field": "ppm", "type": "quantitative", "scale": {"domain": [3.9211, 6.0955], "reverse": true, "nice": false, "zero": false}, "axis": {"title": null}},
                      "y": {"datum": -16.4, "type": "quantitative", "scale": {"domain": [-16.4, 112], "nice": false, "zero": false}, "axis": null}, "y2": {"datum": -17.6}}},
        {"data": {"name": "curves"}, "transform": [{"filter": "datum.panel == 2"}], "mark": {"type": "line", "color": "#1e8cf5", "strokeWidth": 1.4},
         "encoding": {"x": {"field": "ppm", "type": "quantitative", "scale": {"domain": [3.9211, 6.0955], "reverse": true, "nice": false, "zero": false}, "axis": {"title": null}},
                      "y": {"field": "int", "type": "quantitative", "scale": {"domain": [-16.4, 112], "nice": false, "zero": false}, "axis": null},
                      "detail": {"field": "region", "type": "nominal"}}},
        {"data": {"name": "dots"}, "transform": [{"filter": "datum.panel == 2"}], "mark": {"type": "point", "filled": true, "opacity": 1, "size": 360, "shape": "circle"},
         "encoding": {"x": {"field": "ppm", "type": "quantitative", "scale": {"domain": [3.9211, 6.0955], "reverse": true, "nice": false, "zero": false}, "axis": {"title": null}},
                      "y": {"field": "int", "type": "quantitative", "scale": {"domain": [-16.4, 112], "nice": false, "zero": false}, "axis": null},
                      "color": {"field": "group", "type": "nominal", "scale": {"domain": ["A", "B", "C", "D", "E"], "range": ["#ff0000", "#c0c0c0", "#0f82ea", "#ff00ff", "#00ee00"]}, "legend": null}}},
        {"data": {"name": "peaks"}, "transform": [{"filter": "datum.panel == 2"}], "mark": {"type": "rule", "color": "#ff00ff", "strokeWidth": 1.5},
         "encoding": {"x": {"field": "shift", "type": "quantitative", "scale": {"domain": [3.9211, 6.0955], "reverse": true, "nice": false, "zero": false}, "axis": {"title": null}},
                      "y": {"field": "m1", "type": "quantitative", "scale": {"domain": [-16.4, 112], "nice": false, "zero": false}, "axis": null}, "y2": {"field": "m2"}}},
        {"data": {"name": "peaks"}, "transform": [{"filter": "datum.panel == 2"}], "mark": {"type": "rule", "color": "#ff00ff", "strokeWidth": 1.3},
         "encoding": {"x": {"field": "lab", "type": "quantitative", "scale": {"domain": [3.9211, 6.0955], "reverse": true, "nice": false, "zero": false}, "axis": {"title": null}},
                      "y": {"datum": 100.6, "type": "quantitative", "scale": {"domain": [-16.4, 112], "nice": false, "zero": false}, "axis": null}, "y2": {"datum": 99.7}}},
        {"data": {"name": "peaks"}, "transform": [{"filter": "datum.panel == 2"}], "mark": {"type": "rule", "color": "#ff00ff", "strokeWidth": 1.3},
         "encoding": {"x": {"field": "lab", "type": "quantitative", "scale": {"domain": [3.9211, 6.0955], "reverse": true, "nice": false, "zero": false}, "axis": {"title": null}}, "x2": {"field": "shift"},
                      "y": {"datum": 99.7, "type": "quantitative", "scale": {"domain": [-16.4, 112], "nice": false, "zero": false}, "axis": null}, "y2": {"datum": 97.6}}},
        {"data": {"name": "peaks"}, "transform": [{"filter": "datum.panel == 2"}], "mark": {"type": "rule", "color": "#ff00ff", "strokeWidth": 1.3},
         "encoding": {"x": {"field": "shift", "type": "quantitative", "scale": {"domain": [3.9211, 6.0955], "reverse": true, "nice": false, "zero": false}, "axis": {"title": null}},
                      "y": {"datum": 97.6, "type": "quantitative", "scale": {"domain": [-16.4, 112], "nice": false, "zero": false}, "axis": null}, "y2": {"datum": 96.0}}},
        {"data": {"name": "peaks"}, "transform": [{"filter": "datum.panel == 2"}], "mark": {"type": "text", "color": "#ff00ff", "fontSize": 19, "angle": 270, "align": "left", "baseline": "middle"},
         "encoding": {"x": {"field": "lab", "type": "quantitative", "scale": {"domain": [3.9211, 6.0955], "reverse": true, "nice": false, "zero": false}, "axis": {"title": null}},
                      "y": {"datum": 101.6, "type": "quantitative", "scale": {"domain": [-16.4, 112], "nice": false, "zero": false}, "axis": null},
                      "text": {"field": "shift", "type": "quantitative", "format": ".2f"}}},
        {"data": {"name": "integrals"}, "transform": [{"filter": "datum.panel == 2"}], "mark": {"type": "rule", "color": "#1e8cf5", "strokeWidth": 1.3},
         "encoding": {"x": {"field": "itop", "type": "quantitative", "scale": {"domain": [3.9211, 6.0955], "reverse": true, "nice": false, "zero": false}, "axis": {"title": null}}, "x2": {"field": "ilab"},
                      "y": {"datum": -2.2, "type": "quantitative", "scale": {"domain": [-16.4, 112], "nice": false, "zero": false}, "axis": null}, "y2": {"datum": -5.7}}},
        {"data": {"name": "integrals"}, "transform": [{"filter": "datum.panel == 2"}], "mark": {"type": "text", "color": "#1e8cf5", "fontSize": 14, "angle": 270, "align": "left", "baseline": "middle"},
         "encoding": {"x": {"field": "ilab", "type": "quantitative", "scale": {"domain": [3.9211, 6.0955], "reverse": true, "nice": false, "zero": false}, "axis": {"title": null}},
                      "y": {"datum": -14.3, "type": "quantitative", "scale": {"domain": [-16.4, 112], "nice": false, "zero": false}, "axis": null},
                      "text": {"field": "value", "type": "quantitative", "format": ".2f"}}},
        {"data": {"name": "arrow"}, "mark": {"type": "rule", "color": "#000000", "strokeWidth": 2},
         "encoding": {"x": {"field": "fromPpm", "type": "quantitative", "scale": {"domain": [3.9211, 6.0955], "reverse": true, "nice": false, "zero": false}, "axis": {"title": null}}, "x2": {"field": "toPpm"},
                      "y": {"field": "fromInt", "type": "quantitative", "scale": {"domain": [-16.4, 112], "nice": false, "zero": false}, "axis": null}, "y2": {"field": "toInt"}}},
        {"data": {"name": "arrow"}, "mark": {"type": "point", "filled": true, "opacity": 1, "color": "#000000", "shape": "M0,-1L0.7,1L-0.7,1Z", "size": 441, "angle": 218.2},
         "encoding": {"x": {"field": "toPpm", "type": "quantitative", "scale": {"domain": [3.9211, 6.0955], "reverse": true, "nice": false, "zero": false}, "axis": {"title": null}},
                      "y": {"field": "toInt", "type": "quantitative", "scale": {"domain": [-16.4, 112], "nice": false, "zero": false}, "axis": null}}},
        {"data": {"name": "notes"}, "mark": {"type": "text", "color": "#000000", "font": "DejaVu Sans", "fontSize": 19.5, "align": "left", "baseline": "middle"},
         "encoding": {"x": {"field": "ppm", "type": "quantitative", "scale": {"domain": [3.9211, 6.0955], "reverse": true, "nice": false, "zero": false}, "axis": {"title": null}},
                      "y": {"field": "int", "type": "quantitative", "scale": {"domain": [-16.4, 112], "nice": false, "zero": false}, "axis": null},
                      "text": {"field": "label", "type": "nominal"}}}
      ]
    },
    {"width": 43, "height": 642, "data": {"values": []}, "mark": "point"},
    {
      "width": 295.3,
      "height": 642,
      "layer": [
        {"data": {"name": "s3"}, "mark": {"type": "line", "color": "#000000", "strokeWidth": 1.7},
         "encoding": {"x": {"field": "ppm", "type": "quantitative", "scale": {"domain": [2.829, 3.3403], "reverse": true, "nice": false, "zero": false},
                            "axis": {"orient": "bottom", "values": [3.3, 3.2, 3.1, 3.0, 2.9], "format": ".1f", "title": null, "grid": false, "domain": true, "domainColor": "#000000", "domainWidth": 1.5, "ticks": true, "tickColor": "#000000", "tickWidth": 1.5, "tickSize": 11, "labels": true, "labelFont": "DejaVu Sans Condensed", "labelFontSize": 25, "labelColor": "#000000", "labelPadding": 8.5, "labelFlush": false, "labelOverlap": false}},
                      "y": {"field": "int", "type": "quantitative", "scale": {"domain": [-16.4, 112], "nice": false, "zero": false}, "axis": null}}},
        {"data": {"name": "minor"}, "transform": [{"filter": "datum.panel == 3"}], "mark": {"type": "rule", "color": "#000000", "strokeWidth": 1.5},
         "encoding": {"x": {"field": "ppm", "type": "quantitative", "scale": {"domain": [2.829, 3.3403], "reverse": true, "nice": false, "zero": false}, "axis": {"title": null}},
                      "y": {"datum": -16.4, "type": "quantitative", "scale": {"domain": [-16.4, 112], "nice": false, "zero": false}, "axis": null}, "y2": {"datum": -17.6}}},
        {"data": {"name": "curves"}, "transform": [{"filter": "datum.panel == 3"}], "mark": {"type": "line", "color": "#1e8cf5", "strokeWidth": 1.4},
         "encoding": {"x": {"field": "ppm", "type": "quantitative", "scale": {"domain": [2.829, 3.3403], "reverse": true, "nice": false, "zero": false}, "axis": {"title": null}},
                      "y": {"field": "int", "type": "quantitative", "scale": {"domain": [-16.4, 112], "nice": false, "zero": false}, "axis": null},
                      "detail": {"field": "region", "type": "nominal"}}},
        {"data": {"name": "dots"}, "transform": [{"filter": "datum.panel == 3"}], "mark": {"type": "point", "filled": true, "opacity": 1, "size": 360, "shape": "circle"},
         "encoding": {"x": {"field": "ppm", "type": "quantitative", "scale": {"domain": [2.829, 3.3403], "reverse": true, "nice": false, "zero": false}, "axis": {"title": null}},
                      "y": {"field": "int", "type": "quantitative", "scale": {"domain": [-16.4, 112], "nice": false, "zero": false}, "axis": null},
                      "color": {"field": "group", "type": "nominal", "scale": {"domain": ["A", "B", "C", "D", "E"], "range": ["#ff0000", "#c0c0c0", "#0f82ea", "#ff00ff", "#00ee00"]}, "legend": null}}},
        {"data": {"name": "peaks"}, "transform": [{"filter": "datum.panel == 3"}], "mark": {"type": "rule", "color": "#ff00ff", "strokeWidth": 1.5},
         "encoding": {"x": {"field": "shift", "type": "quantitative", "scale": {"domain": [2.829, 3.3403], "reverse": true, "nice": false, "zero": false}, "axis": {"title": null}},
                      "y": {"field": "m1", "type": "quantitative", "scale": {"domain": [-16.4, 112], "nice": false, "zero": false}, "axis": null}, "y2": {"field": "m2"}}},
        {"data": {"name": "peaks"}, "transform": [{"filter": "datum.panel == 3"}], "mark": {"type": "rule", "color": "#ff00ff", "strokeWidth": 1.3},
         "encoding": {"x": {"field": "lab", "type": "quantitative", "scale": {"domain": [2.829, 3.3403], "reverse": true, "nice": false, "zero": false}, "axis": {"title": null}},
                      "y": {"datum": 100.6, "type": "quantitative", "scale": {"domain": [-16.4, 112], "nice": false, "zero": false}, "axis": null}, "y2": {"datum": 96.0}}},
        {"data": {"name": "peaks"}, "transform": [{"filter": "datum.panel == 3"}], "mark": {"type": "text", "color": "#ff00ff", "fontSize": 19, "angle": 270, "align": "left", "baseline": "middle"},
         "encoding": {"x": {"field": "lab", "type": "quantitative", "scale": {"domain": [2.829, 3.3403], "reverse": true, "nice": false, "zero": false}, "axis": {"title": null}},
                      "y": {"datum": 101.6, "type": "quantitative", "scale": {"domain": [-16.4, 112], "nice": false, "zero": false}, "axis": null},
                      "text": {"field": "shift", "type": "quantitative", "format": ".2f"}}},
        {"data": {"name": "integrals"}, "transform": [{"filter": "datum.panel == 3"}], "mark": {"type": "rule", "color": "#1e8cf5", "strokeWidth": 1.3},
         "encoding": {"x": {"field": "itop", "type": "quantitative", "scale": {"domain": [2.829, 3.3403], "reverse": true, "nice": false, "zero": false}, "axis": {"title": null}}, "x2": {"field": "ilab"},
                      "y": {"datum": -2.2, "type": "quantitative", "scale": {"domain": [-16.4, 112], "nice": false, "zero": false}, "axis": null}, "y2": {"datum": -5.7}}},
        {"data": {"name": "integrals"}, "transform": [{"filter": "datum.panel == 3"}], "mark": {"type": "text", "color": "#1e8cf5", "fontSize": 14, "angle": 270, "align": "left", "baseline": "middle"},
         "encoding": {"x": {"field": "ilab", "type": "quantitative", "scale": {"domain": [2.829, 3.3403], "reverse": true, "nice": false, "zero": false}, "axis": {"title": null}},
                      "y": {"datum": -14.3, "type": "quantitative", "scale": {"domain": [-16.4, 112], "nice": false, "zero": false}, "axis": null},
                      "text": {"field": "value", "type": "quantitative", "format": ".2f"}}}
      ]
    },
    {"width": 46.3, "height": 642, "data": {"values": []}, "mark": "point"},
    {
      "width": 516.7,
      "height": 642,
      "layer": [
        {"data": {"name": "s4"}, "mark": {"type": "line", "color": "#000000", "strokeWidth": 1.7},
         "encoding": {"x": {"field": "ppm", "type": "quantitative", "scale": {"domain": [1.361, 2.33], "reverse": true, "nice": false, "zero": false},
                            "axis": {"orient": "bottom", "values": [2.3, 2.2, 2.1, 2.0, 1.9, 1.8, 1.7, 1.6, 1.5, 1.4], "format": ".1f", "title": null, "grid": false, "domain": true, "domainColor": "#000000", "domainWidth": 1.5, "ticks": true, "tickColor": "#000000", "tickWidth": 1.5, "tickSize": 11, "labels": true, "labelFont": "DejaVu Sans Condensed", "labelFontSize": 25, "labelColor": "#000000", "labelPadding": 8.5, "labelFlush": false, "labelOverlap": false}},
                      "y": {"field": "int", "type": "quantitative", "scale": {"domain": [-16.4, 112], "nice": false, "zero": false}, "axis": null}}},
        {"data": {"name": "minor"}, "transform": [{"filter": "datum.panel == 4"}], "mark": {"type": "rule", "color": "#000000", "strokeWidth": 1.5},
         "encoding": {"x": {"field": "ppm", "type": "quantitative", "scale": {"domain": [1.361, 2.33], "reverse": true, "nice": false, "zero": false}, "axis": {"title": null}},
                      "y": {"datum": -16.4, "type": "quantitative", "scale": {"domain": [-16.4, 112], "nice": false, "zero": false}, "axis": null}, "y2": {"datum": -17.6}}}
      ]
    }
  ]
}
